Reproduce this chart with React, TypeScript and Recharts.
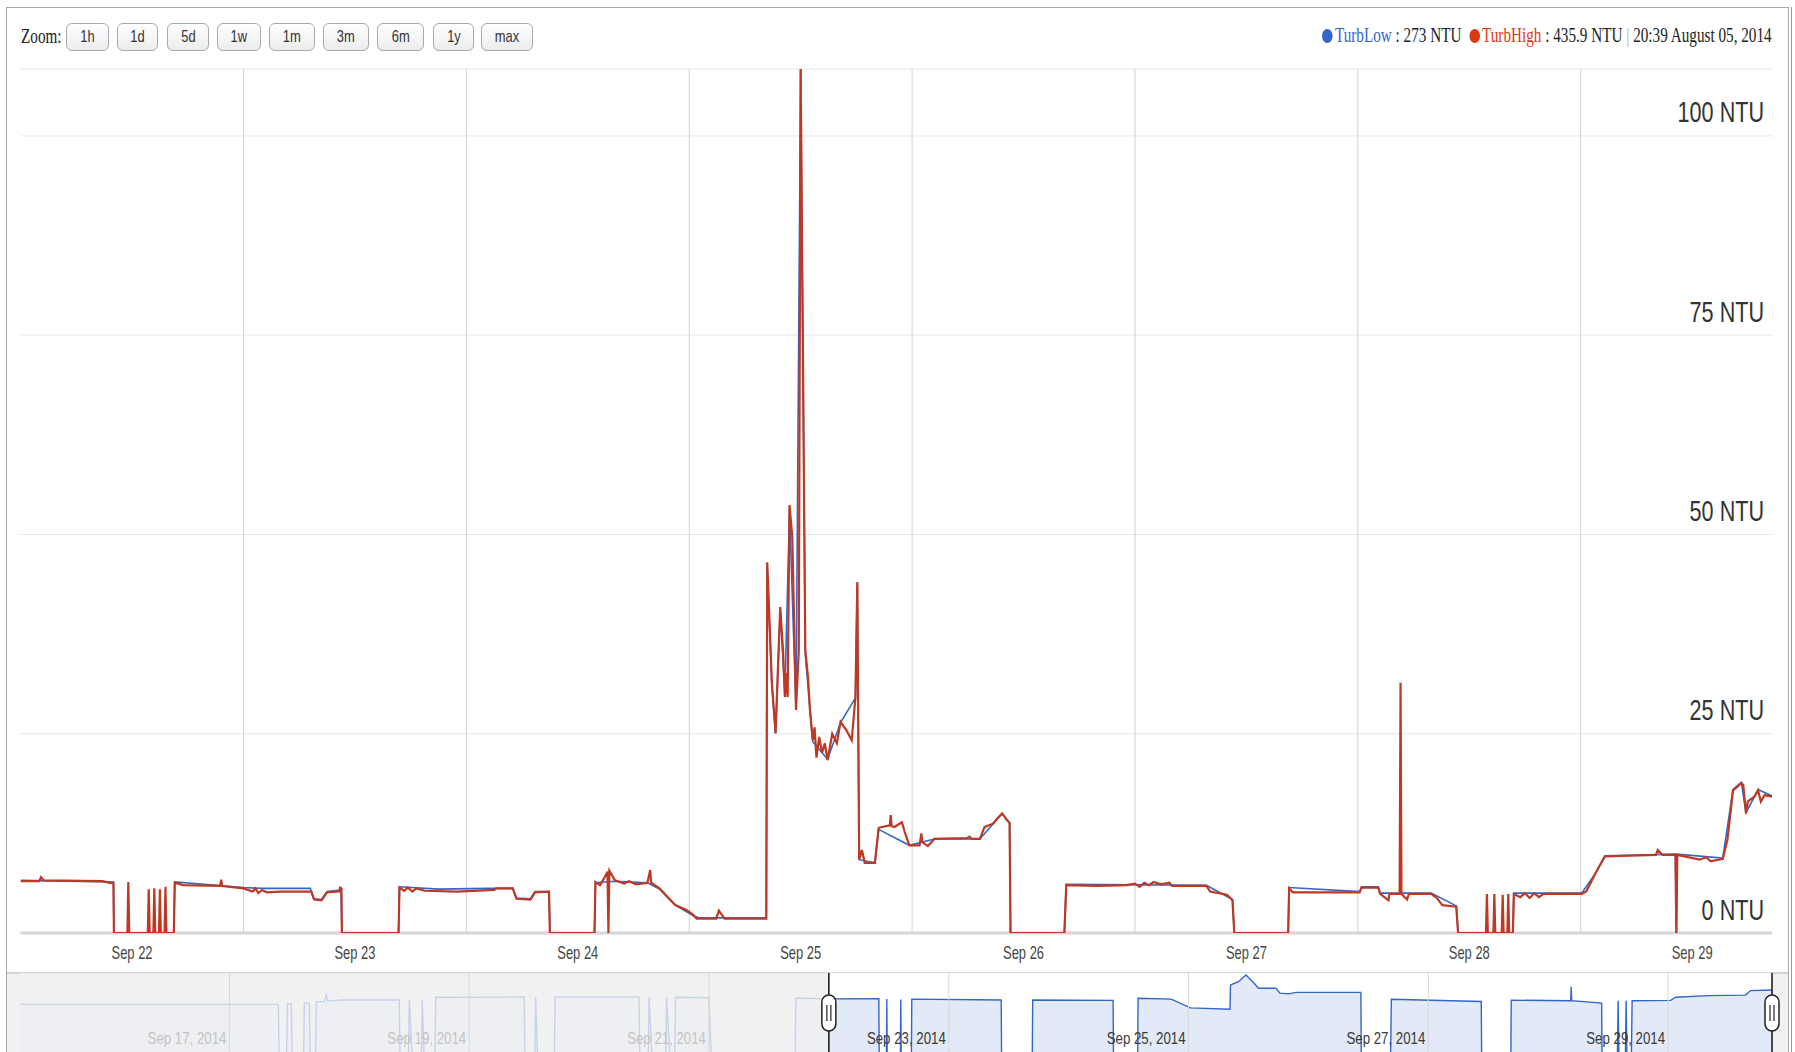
import React from 'react';
import { LineChart, Line, AreaChart, Area, XAxis, YAxis, CartesianGrid, ReferenceLine, ReferenceArea } from 'recharts';

// time axis: hours since Sep 22, 2014 00:00
const highHours = [
  0, 2.0, 2.2, 2.5, 8.8, 9.6, 10.0, 10.05, 11.5, 11.6,
  11.7, 13.7, 13.8, 13.9, 14.3, 14.4, 14.5, 14.9, 15.0, 15.1,
  15.5, 15.6, 15.7, 16.5, 16.6, 17.5, 21.5, 21.6, 21.7, 24.0,
  25.0, 25.3, 25.6, 26.0, 26.5, 28.0, 31.3, 31.6, 32.4, 33.0,
  34.3, 34.4, 34.55, 34.6, 40.7, 40.8, 41.3, 41.7, 42.2, 42.6,
  43.5, 47.0, 51.0, 51.2, 53.0, 53.4, 54.9, 55.4, 56.9, 57.0,
  61.8, 61.9, 62.4, 62.9, 63.2, 63.3, 63.4, 64.0, 65.0, 65.5,
  66.3, 67.5, 67.8, 67.9, 68.8, 69.6, 70.5, 71.7, 72.4, 72.8,
  74.9, 75.2, 75.8, 80.3, 80.4, 80.9, 81.3, 81.8, 82.1, 82.3,
  82.5, 82.6, 82.8, 83.1, 83.5, 83.8, 84.0, 84.5, 84.8, 85.0,
  85.3, 85.5, 85.7, 86.0, 86.3, 86.6, 86.9, 87.4, 87.9, 88.3,
  88.9, 89.5, 89.9, 90.1, 90.3, 90.6, 90.9, 92.0, 92.4, 93.6,
  93.7, 93.8, 94.1, 94.9, 95.2, 95.7, 96.8, 97.0, 97.1, 97.7,
  98.4, 101.9, 102.2, 102.4, 103.3, 103.8, 104.7, 105.2, 105.7, 106.2,
  106.5, 106.6, 112.4, 112.6, 116.0, 119.1, 120.0, 120.5, 121.0, 121.5,
  122.0, 122.8, 123.7, 124.0, 127.7, 128.1, 129.9, 130.5, 130.7, 136.5,
  136.6, 137.0, 144.2, 144.4, 146.2, 146.4, 147.3, 147.4, 148.5, 148.6,
  148.7, 149.3, 149.5, 151.9, 152.5, 153.1, 154.6, 154.8, 157.8, 157.9,
  158.0, 158.6, 158.7, 158.8, 159.5, 159.6, 159.7, 160.1, 160.2, 160.3,
  160.7, 160.8, 161.5, 162.0, 162.5, 163.0, 163.5, 164.0, 168.1, 168.6,
  169.2, 169.5, 170.6, 176.1, 176.3, 176.8, 178.2, 178.3, 178.4, 180.8,
  181.5, 182.0, 183.3, 183.8, 184.4, 185.3, 185.5, 185.8, 186.0, 186.7,
  187.1, 187.4, 187.8, 188.6,
];
const highNtu = [
  6.5, 6.5, 7.0, 6.6, 6.5, 6.3, 6.3, 0, 0, 6.4,
  0, 0, 5.5, 0, 0, 5.6, 0, 0, 5.5, 0,
  0, 5.8, 0, 0, 6.3, 6.0, 5.9, 6.7, 5.9, 5.6,
  5.2, 5.6, 5.0, 5.4, 5.1, 5.2, 5.2, 4.2, 4.1, 5.1,
  5.2, 5.7, 5.6, 0, 0, 5.7, 5.3, 5.7, 5.2, 5.6,
  5.3, 5.2, 5.4, 5.6, 5.6, 4.3, 4.2, 5.1, 5.2, 0,
  0, 6.4, 6.0, 7.0, 7.7, 0, 7.8, 6.6, 6.2, 6.5,
  6.1, 6.3, 7.9, 6.3, 5.6, 4.6, 3.5, 2.9, 2.3, 1.8,
  1.8, 2.8, 1.8, 1.8, 46.5, 31.4, 25.1, 40.9, 35.5, 29.6,
  32.6, 29.6, 53.7, 49.7, 28.0, 35.5, 108.4, 35.5, 32.0, 28.0,
  24.2, 25.8, 22.0, 24.6, 22.6, 23.8, 21.7, 25.0, 23.8, 26.5,
  25.5, 24.2, 29.6, 44.0, 9.2, 10.4, 8.8, 8.8, 13.2, 13.5,
  14.8, 13.4, 13.3, 13.9, 12.7, 11.0, 11.0, 12.5, 11.4, 10.9,
  11.8, 11.9, 12.1, 11.8, 11.8, 13.3, 13.7, 14.4, 15.0, 14.2,
  13.8, 0, 0, 6.0, 5.9, 6.0, 6.2, 5.8, 6.3, 6.0,
  6.4, 6.1, 6.3, 5.9, 5.9, 5.2, 4.8, 4.1, 0, 0,
  5.6, 5.1, 5.1, 5.7, 5.7, 4.9, 4.1, 4.9, 4.9, 31.4,
  4.9, 4.2, 4.9, 4.9, 4.4, 3.5, 3.3, 0, 0, 4.9,
  0, 0, 4.9, 0, 0, 4.8, 0, 0, 4.9, 0,
  0, 4.9, 4.5, 5.0, 4.4, 5.0, 4.5, 4.9, 4.9, 5.2,
  6.6, 7.3, 9.6, 9.8, 10.4, 9.8, 9.8, 0, 9.8, 9.2,
  9.5, 9.0, 9.3, 11.7, 17.9, 18.8, 18.6, 15.0, 16.5, 17.1,
  17.9, 16.5, 17.3, 17.1,
];

const lowHours = [
  0, 10.0, 10.05, 16.5, 16.6, 24.0, 26.0, 31.2, 31.6, 32.4,
  33.0, 34.5, 34.6, 40.7, 40.8, 45.0, 50.5, 53.0, 53.4, 54.9,
  55.4, 56.9, 57.0, 61.8, 61.9, 64.0, 67.5, 68.8, 70.5, 72.4,
  73.0, 80.3, 80.4, 80.9, 81.3, 81.8, 82.3, 82.8, 83.5, 84.0,
  84.5, 85.3, 86.9, 88.3, 89.9, 90.1, 90.3, 92.0, 92.4, 95.7,
  98.4, 103.3, 105.7, 106.5, 106.6, 112.4, 112.6, 127.7, 130.5, 130.7,
  136.5, 136.6, 144.2, 144.4, 146.2, 146.4, 151.9, 154.6, 154.8, 160.7,
  160.8, 168.1, 169.5, 170.6, 178.2, 178.3, 178.4, 183.3, 184.4, 185.3,
  185.8, 187.1, 188.6,
];
const lowNtu = [
  6.6, 6.4, 0, 0, 6.4, 5.7, 5.6, 5.6, 4.3, 4.2,
  5.2, 5.4, 0, 0, 5.8, 5.5, 5.6, 5.6, 4.4, 4.3,
  5.2, 5.2, 0, 0, 6.3, 6.5, 6.3, 5.5, 3.5, 2.2,
  1.9, 1.9, 46.0, 31.0, 25.0, 40.5, 30.0, 53.0, 28.0, 108.4,
  35.0, 24.0, 21.8, 26.4, 29.5, 44.0, 9.2, 8.8, 13.0, 11.0,
  11.8, 11.8, 15.0, 13.8, 0, 0, 6.1, 6.0, 4.2, 0,
  0, 5.7, 5.2, 5.8, 5.8, 5.0, 5.0, 3.4, 0, 0,
  5.0, 5.0, 7.3, 9.7, 9.9, 0, 9.9, 9.4, 18.0, 18.9,
  15.1, 18.0, 17.2,
];

// navigator (scroll zoom) overview, Sep 15 - Sep 29
const navHours = [
  -161.8, -110.2, -110.0, -108.6, -108.4, -107.6, -107.4, -105.2, -105.0, -104.0,
  -103.8, -102.8, -102.6, -101.0, -100.6, -100.3, -97.2, -86.0, -85.8, -84.2,
  -84.0, -83.2, -81.6, -81.4, -80.9, -78.9, -78.7, -61.0, -60.8, -58.9,
  -58.7, -58.2, -55.0, -54.8, -38.0, -37.8, -36.2, -36.0, -35.2, -32.7,
  -32.5, -31.6, -30.9, -30.7, -24.0, -23.4, -6.8, -6.6, -0.5, 10.0,
  10.1, 11.5, 11.6, 11.7, 14.3, 14.4, 14.5, 16.5, 16.6, 34.5,
  34.6, 40.7, 40.8, 56.9, 57.0, 61.8, 61.9, 68.5, 72.4, 80.3,
  80.4, 82.0, 83.5, 85.0, 86.0, 89.5, 90.3, 92.0, 93.5, 106.5,
  106.6, 112.4, 112.6, 130.6, 130.7, 136.5, 136.6, 148.5, 148.6, 148.7,
  154.7, 154.8, 157.8, 158.0, 158.2, 159.4, 159.6, 159.8, 160.6, 160.8,
  168.5, 169.5, 176.0, 183.5, 184.5, 188.8,
];
const navNtu = [
  3.3, 3.3, 0.001, 0.001, 3.6, 3.6, 0.001, 0.001, 3.8, 3.8,
  0.001, 0.001, 4.4, 4.6, 9.5, 4.8, 5.4, 5.4, 0.001, 0.001,
  5.6, 0.001, 0.001, 5.8, 0.001, 0.001, 7.4, 7.6, 0.001, 0.001,
  7.6, 0.001, 0.001, 7.8, 7.8, 0.001, 0.001, 7.6, 0.001, 0.001,
  7.4, 0.001, 0.001, 7.4, 7.0, 0.001, 0.001, 6.8, 6.2, 6.3,
  0.001, 0.001, 6.0, 0.001, 0.001, 5.8, 0.001, 0.001, 6.0, 5.4,
  0.001, 0.001, 5.4, 5.2, 0.001, 0.001, 6.6, 6.0, 2.2, 1.9,
  30, 44, 95, 40, 21, 21, 12, 11, 13, 13,
  0.001, 0.001, 5.9, 4.6, 0.001, 0.001, 5.3, 5.0, 25, 5.0,
  3.8, 0.001, 0.001, 5.0, 0.001, 0.001, 5.0, 0.001, 0.001, 5.0,
  5.2, 7.5, 9.0, 9.5, 16, 17,
];

const dayLabels = ['Sep 22', 'Sep 23', 'Sep 24', 'Sep 25', 'Sep 26', 'Sep 27', 'Sep 28', 'Sep 29'];
const dayStarts = [24, 48, 72, 96, 120, 144, 168];
const yTicks = [0, 25, 50, 75, 100];
const navTicks = [-120, -72, -24, 24, 72, 120, 168];
const navLabels = ['Sep 17, 2014', 'Sep 19, 2014', 'Sep 21, 2014', 'Sep 23, 2014', 'Sep 25, 2014', 'Sep 27, 2014', 'Sep 29, 2014'];
const zoomLabels = ['1h', '1d', '5d', '1w', '1m', '3m', '6m', '1y', 'max'];
const legendNames = ['TurbLow', 'TurbHigh'];
const legendValues = ['273 NTU', '435.9 NTU'];
const legendStamp = '20:39 August 05, 2014';

const SANS = "'Liberation Sans', Arial, sans-serif";
const SERIF = "'Liberation Serif', 'Times New Roman', serif";
const BLUE = '#3366cc';
const RED = '#bd3924';

const btnLeft = [66, 117, 167, 217, 269, 323, 377, 433, 481];
const btnWidth = [43, 41, 42, 44, 46, 46, 47, 41, 52];

const highData = highHours.map((t, i) => ({ t, v: highNtu[i] }));
const lowData = lowHours.map((t, i) => ({ t, v: lowNtu[i] }));
const navData = navHours.map((t, i) => ({ t, v: navNtu[i] }));
const dayTicks = dayLabels.map((_, i) => 12 + 24 * i);

const DayTick = (props: any) => {
  const { x, y, index } = props;
  return (
    <text transform={`translate(${x},${y + 18}) scale(0.74,1)`} textAnchor="middle"
      fontFamily={SANS} fontSize={17.5} fill="#444">
      {dayLabels[index]}
    </text>
  );
};

// y labels sit inside the plot, right-aligned just above each gridline
const NtuLabel = (props: any) => {
  const { viewBox, value } = props;
  const right = viewBox.x + viewBox.width - 8;
  return (
    <text transform={`translate(${right},${viewBox.y - 13.5}) scale(0.72,1)`} textAnchor="end"
      fontFamily={SANS} fontSize={30} fill="#333">
      {`${value} NTU`}
    </text>
  );
};

const NavLabel = (props: any) => {
  const { viewBox, text, past } = props;
  return (
    <text transform={`translate(${viewBox.x - 3},${viewBox.y + 71}) scale(0.78,1)`} textAnchor="end"
      fontFamily={SANS} fontSize={17} fill={past ? '#c4c4c4' : '#3a3a3a'}>
      {text}
    </text>
  );
};

const Handle = (props: any) => {
  const { viewBox } = props;
  const cx = viewBox.x;
  const cy = viewBox.y + 40;
  return (
    <g>
      <rect x={cx - 7} y={cy - 18} width={14} height={36} rx={7} fill="#fff" stroke="#222" strokeWidth={1.5} />
      <line x1={cx - 2} x2={cx - 2} y1={cy - 8} y2={cy + 8} stroke="#222" strokeWidth={1.2} />
      <line x1={cx + 2} x2={cx + 2} y1={cy - 8} y2={cy + 8} stroke="#222" strokeWidth={1.2} />
    </g>
  );
};

const Dot = ({ color }: { color: string }) => (
  <span style={{ display: 'inline-block', width: 14, height: 14, borderRadius: 7, background: color, margin: '0 3px -1px 0' }} />
);

export default function App() {
  return (
    <div style={{ position: 'relative', width: 1795, height: 1052, overflow: 'hidden', background: '#fff' }}>
      <style>{'body{margin:0;overflow:hidden;background:#fff}'}</style>

      {/* frame */}
      <div style={{ position: 'absolute', left: 6, top: 7, width: 1783, height: 1100, border: '1px solid #a8a8a8', boxSizing: 'border-box' }} />
      <div style={{ position: 'absolute', left: 1791, top: 7, width: 1, height: 1100, background: '#999' }} />

      {/* zoom toolbar */}
      <div style={{ position: 'absolute', left: 21, top: 25, fontFamily: SERIF, fontSize: 20, color: '#222', transform: 'scaleX(0.76)', transformOrigin: 'left center' }}>
        Zoom:
      </div>
      {zoomLabels.map((z, i) => (
        <div key={z} style={{
          position: 'absolute', left: btnLeft[i], top: 23, width: btnWidth[i], height: 28, boxSizing: 'border-box',
          border: '1px solid #a9a9a9', borderRadius: 6, background: 'linear-gradient(#ffffff, #ececec)',
          display: 'flex', alignItems: 'center', justifyContent: 'center',
        }}>
          <span style={{ fontFamily: SANS, fontSize: 17, color: '#333', display: 'inline-block', transform: 'scaleX(0.76)' }}>{z}</span>
        </div>
      ))}

      {/* legend readout */}
      <div style={{
        position: 'absolute', right: 1795 - 1772, top: 24, whiteSpace: 'nowrap', fontFamily: SERIF, fontSize: 20, color: '#222',
        transform: 'scaleX(0.76)', transformOrigin: 'right center',
      }}>
        <Dot color={BLUE} /><span style={{ color: BLUE }}>{legendNames[0]}</span> : {legendValues[0]}&nbsp;&nbsp;
        <Dot color="#dc3912" /><span style={{ color: '#dc3912' }}>{legendNames[1]}</span> : {legendValues[1]}&nbsp;
        <span style={{ color: '#aaa' }}>|</span> {legendStamp}
      </div>

      {/* main chart */}
      <div style={{ position: 'absolute', left: 0, top: 0 }}>
        <LineChart width={1795} height={1000} margin={{ top: 69, right: 23, bottom: 37, left: 20.6 }}>
          <CartesianGrid vertical={false} stroke="#e8e8e8" />
          <XAxis type="number" dataKey="t" domain={[0, 188.6]} allowDataOverflow ticks={dayTicks} interval={0}
            tick={(p: any) => <DayTick {...p} />} axisLine={false} tickLine={false} height={30} />
          <YAxis hide domain={[0, 108.4]} allowDataOverflow ticks={yTicks} />
          {dayStarts.map((d) => (
            <ReferenceLine key={d} x={d} stroke="#d2d2d2" />
          ))}
          <ReferenceLine y={0} stroke="#d6d6d6" strokeWidth={3} />
          {yTicks.map((v) => (
            <ReferenceLine key={`y${v}`} y={v} stroke="none" label={<NtuLabel value={v} />} />
          ))}
          <Line data={lowData} dataKey="v" type="linear" stroke={BLUE} strokeWidth={1.6} dot={false} isAnimationActive={false} />
          <Line data={highData} dataKey="v" type="linear" stroke={RED} strokeWidth={2.2} dot={false} isAnimationActive={false} />
        </LineChart>
      </div>

      {/* navigator */}
      <div style={{ position: 'absolute', left: 7, top: 973, width: 1781, height: 90, background: '#f1f1f1' }} />
      <div style={{ position: 'absolute', left: 7, top: 972, width: 1781, height: 2, background: '#d4d4d4' }} />
      <div style={{ position: 'absolute', left: 0, top: 973 }}>
        <AreaChart width={1795} height={110} data={navData} margin={{ top: 0, right: 23, bottom: 8, left: 20.6 }}>
          <XAxis type="number" dataKey="t" domain={[-161.8, 188.8]} allowDataOverflow hide />
          <YAxis scale="log" domain={[0.001, 120]} allowDataOverflow hide />
          <ReferenceArea x1={0} x2={188.8} fill="#ffffff" fillOpacity={1} stroke="none" />
          {navTicks.map((t, i) => (
            <ReferenceLine key={t} x={t} stroke="#d8d8d8" label={<NavLabel text={navLabels[i]} past={t < 0} />} />
          ))}
          <Area dataKey="v" type="linear" stroke={BLUE} strokeWidth={1.4} fill="#e2e9f7" fillOpacity={1} isAnimationActive={false} />
          <ReferenceArea x1={-161.8} x2={0} fill="#f1f1f1" fillOpacity={0.78} stroke="none" />
          <ReferenceLine x={0} stroke="#111" strokeWidth={1.5} label={<Handle />} />
          <ReferenceLine x={188.8} stroke="#111" strokeWidth={1.5} label={<Handle />} />
        </AreaChart>
      </div>
    </div>
  );
}
